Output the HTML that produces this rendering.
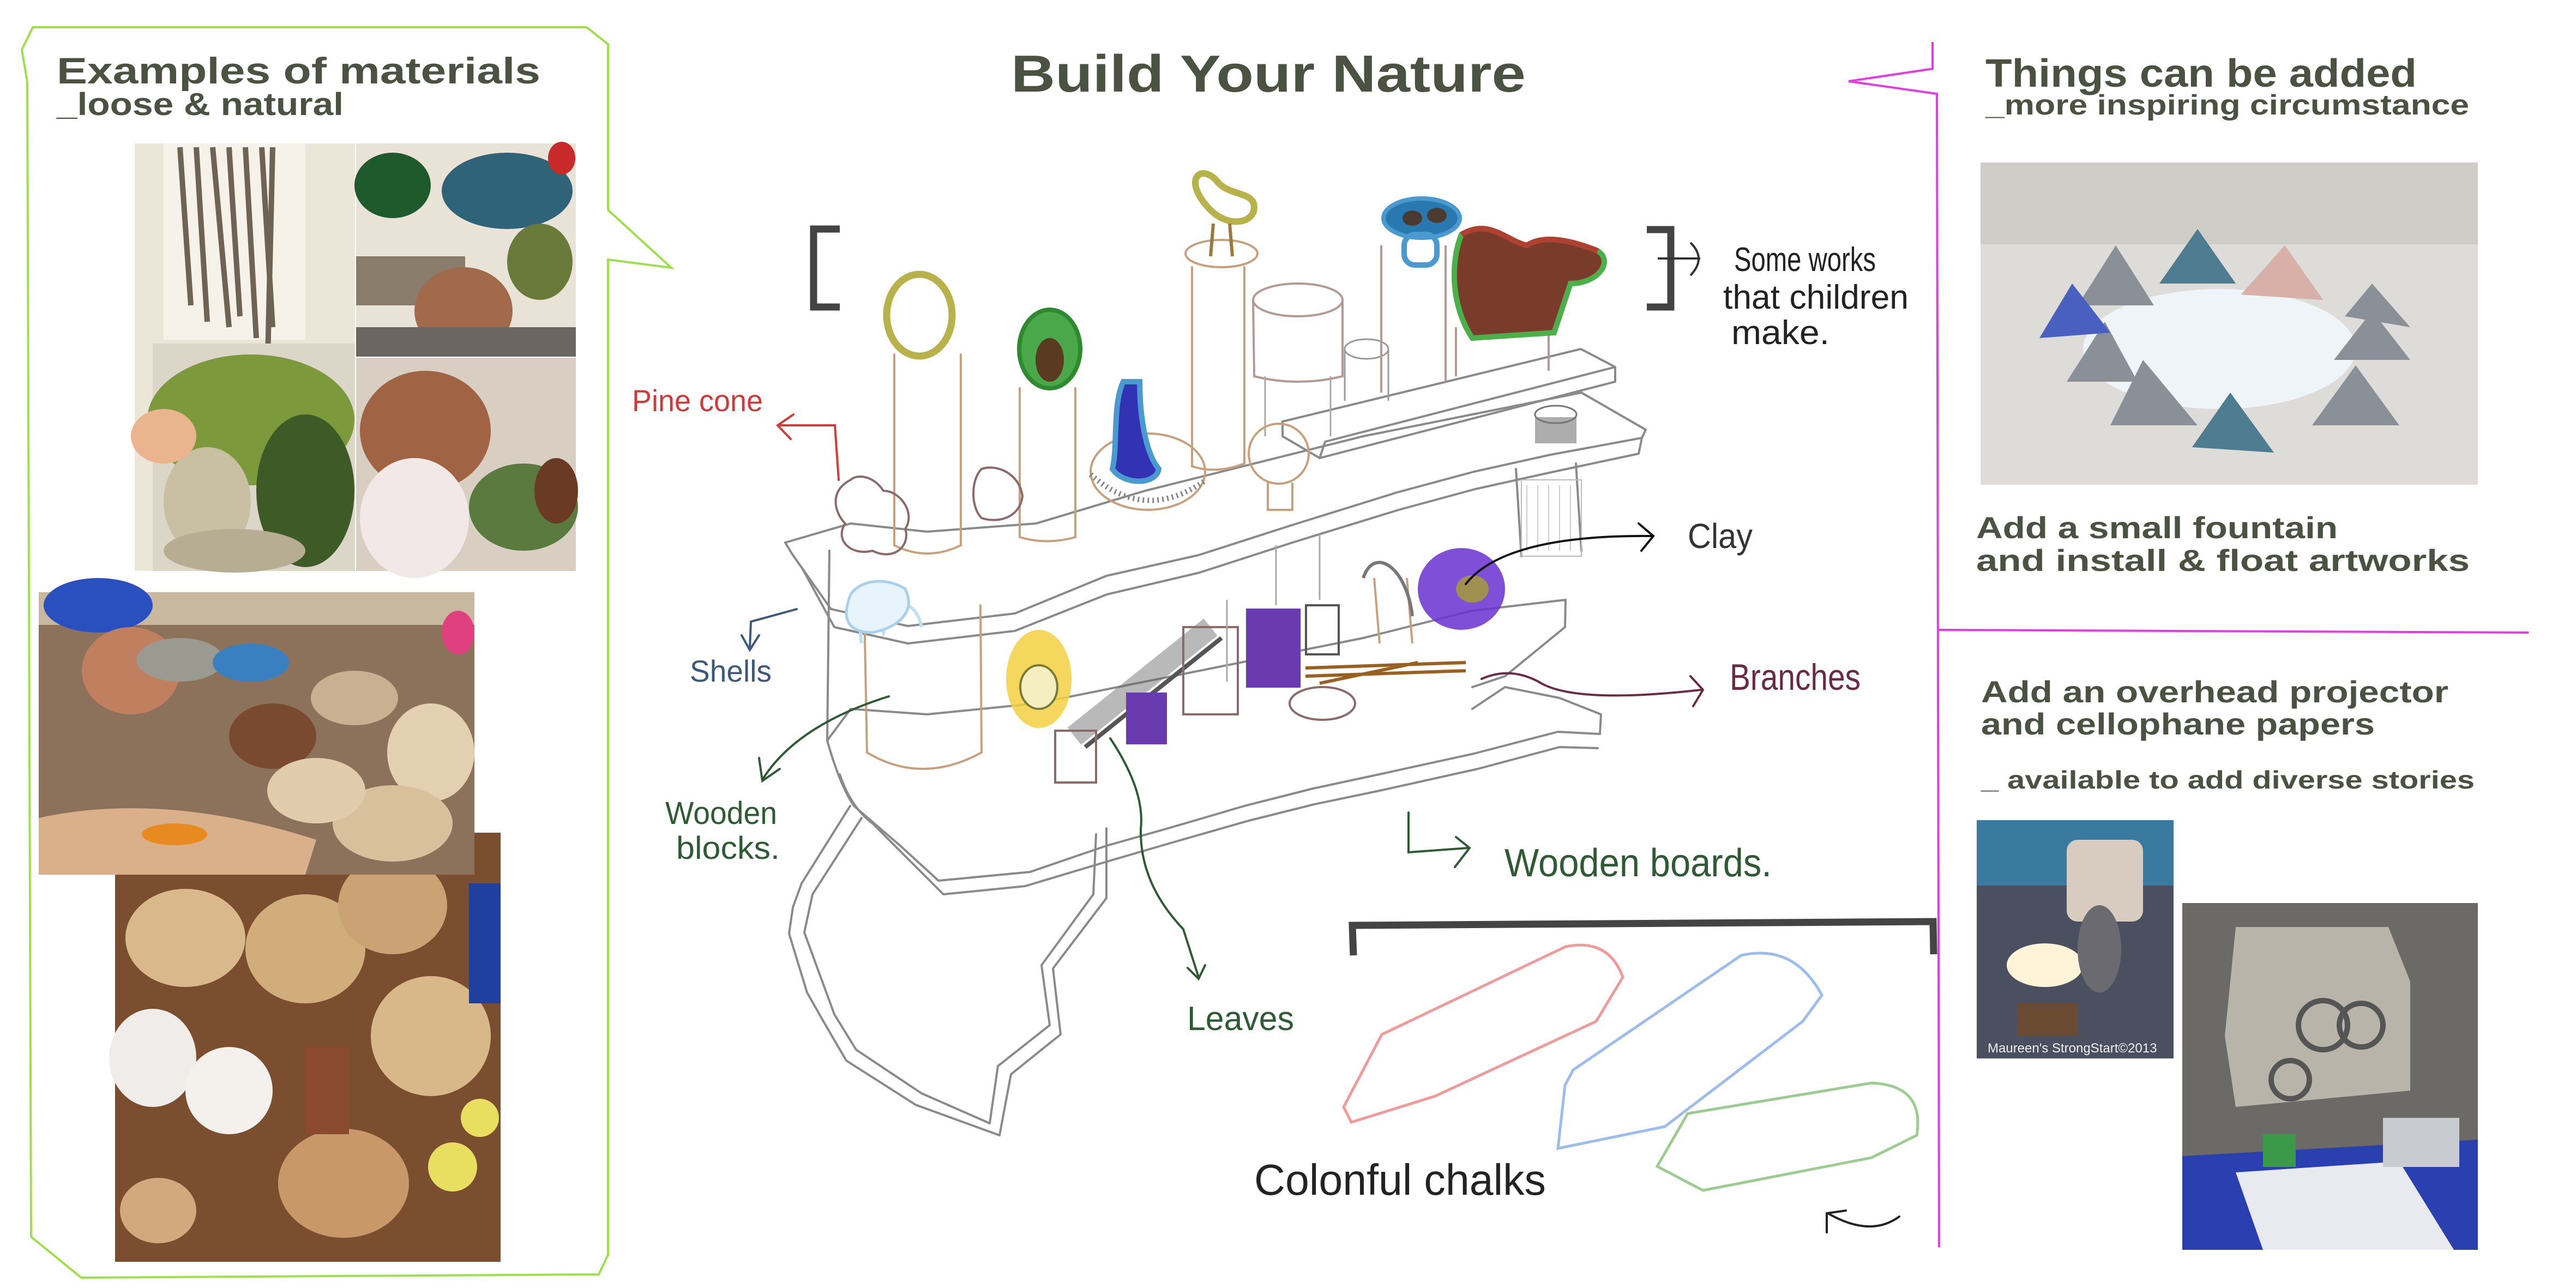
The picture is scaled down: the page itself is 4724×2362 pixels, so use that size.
<!DOCTYPE html>
<html><head><meta charset="utf-8"><style>
html,body{margin:0;padding:0;background:#fff;}
svg{display:block;}
.t{font-family:"Liberation Sans",sans-serif;font-weight:bold;fill:#4b5241;}
.h{font-family:"Liberation Sans",sans-serif;font-weight:normal;}
.g{fill:none;stroke:#8a8a8a;stroke-width:4;stroke-linecap:round;stroke-linejoin:round;}
.b{fill:none;stroke:#c7a07e;stroke-width:4;stroke-linecap:round;}
</style></head><body>
<svg width="4724" height="2362" viewBox="0 0 4724 2362" xmlns="http://www.w3.org/2000/svg">
<rect width="4724" height="2362" fill="#fff"/>

<!-- LEFT GREEN CALLOUT -->
<path d="M60,50 L1076,50 L1115,81 L1115,385 L1231,491 L1115,476 L1115,2301 L1098,2337 L149,2343 L57,2268 L50,150 L40,91 Z" fill="none" stroke="#9ee04a" stroke-width="4"/>
<text class="t" x="104" y="153" font-size="68" textLength="887" lengthAdjust="spacingAndGlyphs">Examples of materials</text>
<text class="t" x="104" y="211" font-size="58" textLength="526" lengthAdjust="spacingAndGlyphs">_loose &amp; natural</text>

<!-- photo1 sticks+moss -->
<rect x="247" y="263" width="404" height="784" fill="#ece6d8"/>
<rect x="300" y="263" width="260" height="360" fill="#f6f2ea"/>
<g stroke="#6e6355" stroke-width="10">
<line x1="330" y1="270" x2="350" y2="560"/><line x1="360" y1="270" x2="380" y2="590"/><line x1="390" y1="270" x2="420" y2="600"/><line x1="420" y1="270" x2="440" y2="580"/><line x1="450" y1="270" x2="470" y2="620"/><line x1="480" y1="270" x2="500" y2="600"/><line x1="500" y1="270" x2="490" y2="700"/></g>
<rect x="280" y="630" width="371" height="417" fill="#dcd6c8"/>
<ellipse cx="460" cy="770" rx="190" ry="120" fill="#7c9a3c"/>
<ellipse cx="560" cy="900" rx="90" ry="140" fill="#3e5a26"/>
<ellipse cx="380" cy="920" rx="80" ry="100" fill="#c9c0a4"/>
<ellipse cx="300" cy="800" rx="60" ry="50" fill="#e9b48e"/>
<ellipse cx="430" cy="1010" rx="130" ry="40" fill="#b6ad93"/>
<!-- photo2 -->
<rect x="653" y="263" width="403" height="391" fill="#e9e2d6"/>
<ellipse cx="720" cy="340" rx="70" ry="60" fill="#1f5a2c"/>
<ellipse cx="930" cy="350" rx="120" ry="70" fill="#2f6478"/>
<ellipse cx="1030" cy="290" rx="25" ry="30" fill="#c82a2a"/>
<rect x="653" y="470" width="200" height="90" fill="#8a7c6a"/>
<ellipse cx="850" cy="570" rx="90" ry="80" fill="#a26a4a"/>
<ellipse cx="990" cy="480" rx="60" ry="70" fill="#6a7a3a"/>
<rect x="653" y="600" width="403" height="54" fill="#6c6660"/>
<!-- photo3 -->
<rect x="653" y="656" width="403" height="391" fill="#d8cfc2"/>
<ellipse cx="780" cy="790" rx="120" ry="110" fill="#a06444"/>
<ellipse cx="760" cy="950" rx="100" ry="110" fill="#f2e8e8"/>
<ellipse cx="960" cy="930" rx="100" ry="80" fill="#5a7a40"/>
<ellipse cx="1020" cy="900" rx="40" ry="60" fill="#6a3a24"/>
<!-- photo5 (behind) -->
<rect x="211" y="1527" width="707" height="787" fill="#7a4e2e"/>
<ellipse cx="340" cy="1720" rx="110" ry="90" fill="#d9b98c"/>
<ellipse cx="560" cy="1740" rx="110" ry="100" fill="#d2ad7c"/>
<ellipse cx="720" cy="1660" rx="100" ry="90" fill="#caa274"/>
<ellipse cx="790" cy="1900" rx="110" ry="110" fill="#d8b888"/>
<ellipse cx="280" cy="1940" rx="80" ry="90" fill="#f0ecea"/>
<ellipse cx="420" cy="2000" rx="80" ry="80" fill="#f4f0ec"/>
<ellipse cx="630" cy="2170" rx="120" ry="100" fill="#c89868"/>
<ellipse cx="290" cy="2220" rx="70" ry="60" fill="#d2a87c"/>
<rect x="560" y="1920" width="80" height="160" fill="#8a4a30"/>
<circle cx="830" cy="2140" r="45" fill="#e8de60"/>
<circle cx="880" cy="2050" r="35" fill="#e8de60"/>
<rect x="860" y="1620" width="58" height="220" fill="#2040a0"/>
<!-- photo4 -->
<rect x="71" y="1086" width="799" height="518" fill="#8c725a"/>
<rect x="71" y="1086" width="799" height="60" fill="#c8b8a0"/>
<ellipse cx="180" cy="1110" rx="100" ry="50" fill="#2a50c0"/>
<ellipse cx="240" cy="1230" rx="90" ry="80" fill="#c08060"/>
<ellipse cx="330" cy="1210" rx="80" ry="40" fill="#9a9a90"/>
<ellipse cx="460" cy="1215" rx="70" ry="35" fill="#3a80c0"/>
<ellipse cx="500" cy="1350" rx="80" ry="60" fill="#7a4a30"/>
<ellipse cx="650" cy="1280" rx="80" ry="50" fill="#c8b090"/>
<ellipse cx="790" cy="1380" rx="80" ry="90" fill="#e2d0b0"/>
<ellipse cx="720" cy="1510" rx="110" ry="70" fill="#d8c09c"/>
<ellipse cx="580" cy="1450" rx="90" ry="60" fill="#e0ccaa"/>
<path d="M71,1500 Q300,1450 580,1540 L560,1604 L71,1604 Z" fill="#d9b08a"/>
<ellipse cx="320" cy="1530" rx="60" ry="20" fill="#e88a20"/>
<ellipse cx="840" cy="1160" rx="30" ry="40" fill="#e04080"/>

<!-- TITLE -->
<text class="t" x="1854" y="168" font-size="96" textLength="944" lengthAdjust="spacingAndGlyphs">Build Your Nature</text>

<!-- brackets -->
<path d="M1540,420 L1492,420 L1492,563 L1540,563" fill="none" stroke="#444" stroke-width="13"/>
<path d="M3020,421 L3064,421 L3064,563 L3020,563" fill="none" stroke="#444" stroke-width="13"/>
<path d="M3040,474 L3118,474 M3100,445 Q3130,474 3100,505" fill="none" stroke="#333" stroke-width="4"/>
<g class="h" fill="#222" font-size="62">
<text x="3180" y="497" textLength="260" lengthAdjust="spacingAndGlyphs">Some works</text>
<text x="3160" y="566" textLength="340" lengthAdjust="spacingAndGlyphs">that children</text>
<text x="3175" y="631" textLength="180" lengthAdjust="spacingAndGlyphs">make.</text>
</g>

<!-- SHELF SKETCH -->
<!-- base stand -->
<path class="g" d="M1559,1478 L1470,1620 L1454,1664 L1447,1712 L1480,1820 L1510,1873 L1552,1945 L1679,2026 L1833,2082 L1854,1970 L1945,1897 L1931,1776 L2029,1647 L2029,1519"/>
<path class="g" d="M1580,1500 L1490,1640 L1475,1710 L1530,1860 L1570,1925 L1690,2005 L1815,2060 L1830,1955 L1925,1880 L1910,1770 L2005,1640 L2010,1530" stroke="#b0b0b0" stroke-width="3"/>
<!-- lower shelf -->
<path class="g" d="M1517,1358 L1560,1300 L1700,1310 L1900,1290 L2100,1250 L2300,1210 L2500,1170 L2700,1120 L2871,1100 L2870,1150 L2760,1240 L2700,1260"/>
<path class="g" d="M1517,1358 Q1540,1440 1566,1478 L1651,1551 L1721,1615 L1889,1599 L2029,1551 L2142,1519 L2282,1478 L2408,1446 L2520,1422 L2703,1382 L2857,1342 L2934,1346 L2936,1310 L2860,1280 L2760,1260 L2700,1300"/>
<path class="g" d="M1540,1420 Q1560,1480 1600,1510 L1670,1580 L1730,1640 L1880,1625 L2030,1580 L2150,1545 L2290,1505 L2410,1475 L2530,1450 L2710,1410 L2860,1370 L2930,1372" stroke="#a0a0a0"/>
<path class="g" d="M1521,1010 L1517,1358" stroke="#9a9a9a"/>
<!-- upper shelf -->
<path class="g" d="M1440,995 L1560,960 L1700,975 L1900,960 L2100,900 L2300,850 L2500,800 L2700,760 L2900,720 L3018,788"/>
<path class="g" d="M1440,995 L1454,1018 L1524,1117 L1665,1148 L1861,1125 L2029,1056 L2198,1018 L2366,964 L2562,903 L2703,865 L2843,834 L3011,803 L3018,788"/>
<path class="g" d="M1470,1040 L1530,1150 L1665,1180 L1861,1157 L2030,1090 L2200,1050 L2370,995 L2565,935 L2705,897 L2845,866 L3005,832 L3011,803" stroke="#a0a0a0"/>
<!-- beam -->
<path class="g" d="M2352,773 L2899,640 L2962,673 L2962,700 L2420,840 L2352,800 Z"/>
<path class="g" d="M2420,840 L2430,810 L2962,673" stroke="#a0a0a0"/>
<!-- posts under upper shelf -->
<path class="g" d="M2780,860 L2790,1020 M2890,850 L2900,1010" stroke="#aaa"/>
<rect x="2790" y="880" width="110" height="140" fill="none" stroke="#bbb" stroke-width="2"/>
<g stroke="#ccc" stroke-width="2"><line x1="2800" y1="890" x2="2800" y2="1010"/><line x1="2820" y1="890" x2="2820" y2="1010"/><line x1="2840" y1="890" x2="2840" y2="1010"/><line x1="2860" y1="890" x2="2860" y2="1010"/><line x1="2880" y1="890" x2="2880" y2="1010"/></g>
<!-- upper cylinders -->
<path class="b" d="M1640,650 L1640,1000 Q1700,1030 1762,1000 L1762,650"/>
<ellipse cx="1686" cy="578" rx="60" ry="75" fill="none" stroke="#b8b24a" stroke-width="13"/>
<path class="b" d="M1870,712 L1870,985 Q1920,1000 1972,985 L1972,712" stroke="#b49a94"/>
<ellipse cx="1925" cy="640" rx="56" ry="72" fill="#4aa84a" stroke="#2e8a2e" stroke-width="8"/>
<ellipse cx="1925" cy="660" rx="26" ry="40" fill="#5a3a20"/>
<path class="b" d="M2186,490 L2186,855 Q2230,870 2282,850 L2282,490"/>
<ellipse cx="2240" cy="465" rx="66" ry="25" fill="none" stroke="#c7a07e" stroke-width="4"/>
<path d="M2215,380 C2170,330 2200,300 2230,330 C2250,360 2300,350 2300,380 C2300,410 2250,420 2215,380 Z" fill="none" stroke="#b8b24a" stroke-width="12"/>
<path d="M2225,410 L2220,470 M2255,410 L2260,470" stroke="#9a7a3a" stroke-width="6"/>
<ellipse cx="2380" cy="550" rx="82" ry="30" fill="none" stroke="#b49a94" stroke-width="4"/>
<path d="M2298,550 L2300,690 Q2380,710 2462,690 L2462,550" fill="none" stroke="#b49a94" stroke-width="4"/>
<path d="M2320,690 L2320,800 M2440,690 L2440,800" fill="none" stroke="#aaa" stroke-width="3"/>
<path d="M2466,640 L2466,735 M2546,640 L2546,735" fill="none" stroke="#999" stroke-width="3"/><ellipse cx="2506" cy="640" rx="40" ry="18" fill="none" stroke="#999" stroke-width="3"/>
<path d="M2533,450 L2533,720 M2651,450 L2651,700" fill="none" stroke="#b49a94" stroke-width="4"/>
<ellipse cx="2607" cy="400" rx="70" ry="36" fill="#2a78b0" stroke="#4a9ad0" stroke-width="8"/>
<ellipse cx="2590" cy="400" rx="18" ry="14" fill="#4a3a30"/><ellipse cx="2635" cy="395" rx="18" ry="14" fill="#4a3a30"/>
<rect x="2575" y="430" width="60" height="56" rx="20" fill="none" stroke="#4a9ad0" stroke-width="10"/>
<path d="M2670,600 L2670,690 M2840,600 L2840,680" fill="none" stroke="#b49a94" stroke-width="4"/>
<path d="M2680,430 C2730,400 2760,440 2800,450 C2830,430 2880,440 2930,460 C2960,480 2930,520 2880,520 L2850,610 L2700,620 C2660,560 2660,480 2680,430 Z" fill="#7a3c2a" stroke="#4cb04a" stroke-width="10"/>
<path d="M2680,430 C2730,400 2760,440 2800,450 C2830,430 2880,440 2930,460" fill="none" stroke="#b04030" stroke-width="10"/>
<!-- blue figure + slice -->
<ellipse cx="2105" cy="865" rx="105" ry="70" fill="none" stroke="#c7a07e" stroke-width="4"/>
<path d="M2000,870 Q2100,960 2212,880" fill="none" stroke="#888" stroke-width="10" stroke-dasharray="3 6"/>
<path d="M2060,700 C2040,740 2050,820 2040,860 C2060,890 2120,890 2125,860 C2100,830 2090,760 2090,700 Z" fill="#3232b4" stroke="#4a9ad0" stroke-width="10"/>
<!-- pine cones -->
<path d="M1560,880 C1520,900 1530,940 1550,960 C1530,990 1560,1020 1600,1010 C1640,1030 1670,1000 1660,970 C1680,940 1650,900 1620,900 C1600,870 1570,870 1560,880 Z" fill="none" stroke="#8a6a6a" stroke-width="4"/>
<path d="M1800,860 C1780,880 1780,930 1800,950 C1830,960 1870,950 1875,910 C1870,870 1830,850 1800,860 Z" fill="none" stroke="#8a6a6a" stroke-width="4"/>
<!-- mushroom -->
<circle cx="2345" cy="832" r="55" fill="none" stroke="#c7a07e" stroke-width="4"/>
<path d="M2325,885 L2325,935 L2370,935 L2370,885" fill="none" stroke="#c7a07e" stroke-width="4"/>
<ellipse cx="2853" cy="760" rx="38" ry="16" fill="none" stroke="#777" stroke-width="3"/>
<rect x="2815" y="765" width="76" height="48" fill="#777" opacity=".6"/>

<!-- lower shelf items -->
<path class="b" d="M1585,1120 L1590,1380 Q1690,1440 1800,1380 L1798,1110"/>
<ellipse cx="1905" cy="1245" rx="60" ry="90" fill="#f2d040" opacity=".85"/>
<ellipse cx="1905" cy="1260" rx="34" ry="40" fill="#f4eec0" stroke="#7a7a3a" stroke-width="4"/>
<path d="M1970,1350 L2220,1150" stroke="#666" stroke-width="40" opacity=".45"/>
<path d="M1990,1370 L2240,1170" stroke="#555" stroke-width="8"/>
<rect x="1935" y="1340" width="75" height="95" fill="none" stroke="#8a6a6a" stroke-width="4"/>
<rect x="2065" y="1270" width="75" height="95" fill="#6a3ab0"/>
<rect x="2170" y="1150" width="100" height="160" fill="none" stroke="#8a6a6a" stroke-width="4"/>
<rect x="2285" y="1116" width="100" height="145" fill="#6a3ab0"/>
<rect x="2395" y="1110" width="60" height="90" fill="none" stroke="#555" stroke-width="4"/>
<ellipse cx="2425" cy="1290" rx="60" ry="30" fill="none" stroke="#8a6a6a" stroke-width="4"/>
<path d="M2394,1225 L2688,1215 M2394,1240 L2688,1230 M2420,1253 L2600,1215" stroke="#9a6020" stroke-width="6"/>
<path d="M2520,1060 L2530,1180 M2580,1060 L2590,1180" stroke="#c7a07e" stroke-width="4"/>
<ellipse cx="2680" cy="1080" rx="80" ry="75" fill="#6a30d0" opacity=".85"/>
<ellipse cx="2700" cy="1080" rx="30" ry="25" fill="#a09050"/>
<path d="M2500,1060 C2520,1000 2580,1040 2590,1130" fill="none" stroke="#777" stroke-width="6"/>
<path d="M2250,1100 L2250,1250 M2340,1000 L2340,1110 M2420,980 L2420,1100" stroke="#aaa" stroke-width="3"/>
<path d="M1580,1180 C1570,1110 1600,1110 1620,1160 C1640,1090 1680,1100 1690,1150" fill="none" stroke="#c0e0f0" stroke-width="6"/>
<path d="M1560,1090 C1540,1140 1560,1160 1600,1160 C1650,1150 1680,1120 1660,1080 C1630,1060 1580,1060 1560,1090 Z" fill="#e8f4fc" stroke="#a8d0ec" stroke-width="5"/>

<!-- LABELS & ARROWS -->
<g class="h">
<text x="1159" y="754" font-size="56" fill="#d23a3a" textLength="240" lengthAdjust="spacingAndGlyphs">Pine cone</text>
<text x="1265" y="1250" font-size="56" fill="#3c5a78" textLength="150" lengthAdjust="spacingAndGlyphs">Shells</text>
<text x="1220" y="1511" font-size="58" fill="#2e5a34" textLength="205" lengthAdjust="spacingAndGlyphs">Wooden</text>
<text x="1240" y="1575" font-size="58" fill="#2e5a34" textLength="190" lengthAdjust="spacingAndGlyphs">blocks.</text>
<text x="2177" y="1889" font-size="62" fill="#2e5a34" textLength="196" lengthAdjust="spacingAndGlyphs">Leaves</text>
<text x="2759" y="1607" font-size="72" fill="#2e5a34" textLength="490" lengthAdjust="spacingAndGlyphs">Wooden boards.</text>
<text x="3172" y="1265" font-size="68" fill="#6a2a44" textLength="240" lengthAdjust="spacingAndGlyphs">Branches</text>
<text x="3095" y="1005" font-size="64" fill="#333" textLength="119" lengthAdjust="spacingAndGlyphs">Clay</text>
<text x="2300" y="2191" font-size="80" fill="#222" textLength="535" lengthAdjust="spacingAndGlyphs">Colonful chalks</text>
</g>
<g fill="none" stroke-width="4" stroke-linecap="round">
<path d="M1538,880 L1531,780 L1426,780 M1455,760 L1426,780 L1450,805" stroke="#d23a3a"/>
<path d="M1461,1117 L1377,1140 L1375,1190 M1360,1165 L1375,1192 L1392,1165" stroke="#3c5a78"/>
<path d="M1630,1277 Q1460,1330 1398,1430 M1392,1390 L1398,1432 L1430,1410" stroke="#2e5a34"/>
<path d="M2036,1354 Q2100,1450 2092,1520 Q2090,1620 2170,1704 L2198,1792 M2178,1775 L2198,1795 L2210,1770" stroke="#2e5a34"/>
<path d="M2583,1490 L2583,1563 L2692,1555 M2670,1535 L2695,1555 L2668,1590" stroke="#2e5a34"/>
<path d="M2717,1245 Q2773,1220 2830,1255 Q2900,1290 3120,1265 M3100,1240 L3123,1265 L3105,1295" stroke="#6a2a44"/>
<path d="M2688,1071 Q2760,980 3030,983 M3005,960 L3032,983 L3010,1010" stroke="#111"/>
<path d="M3483,2231 Q3430,2270 3352,2225 M3350,2260 L3350,2225 L3385,2220" stroke="#222"/>
</g>
<!-- chalk bracket -->
<path d="M2482,1752 L2480,1697 L3545,1690 L3546,1750" fill="none" stroke="#444" stroke-width="13"/>
<!-- chalks -->
<path d="M2478,2058 L2464,2030 L2534,1897 L2871,1736 Q2950,1720 2976,1792 L2927,1873 L2632,2010 Z" fill="none" stroke="#f29a9a" stroke-width="5"/>
<path d="M2857,2106 L2870,1990 L2885,1962 L3193,1752 Q3290,1730 3341,1825 L3306,1873 L3053,2066 Z" fill="none" stroke="#9cbcf0" stroke-width="5"/>
<path d="M3039,2139 L3095,2042 L3432,1986 Q3530,1990 3515,2082 L3432,2123 L3123,2183 Z" fill="none" stroke="#9ccc90" stroke-width="5"/>

<!-- RIGHT MAGENTA -->
<path d="M3544,77 L3544,126 L3390,149 L3552,172 L3556,2287" fill="none" stroke="#e23ce2" stroke-width="4"/>
<path d="M3552,1155 L4637,1160" fill="none" stroke="#e23ce2" stroke-width="4"/>
<text class="t" x="3641" y="159" font-size="72" textLength="791" lengthAdjust="spacingAndGlyphs">Things can be added</text>
<text class="t" x="3641" y="210" font-size="52" textLength="887" lengthAdjust="spacingAndGlyphs">_more inspiring circumstance</text>
<!-- fountain photo -->
<rect x="3632" y="298" width="912" height="591" fill="#dedcd8"/>
<rect x="3632" y="298" width="912" height="150" fill="#cfcdc8"/>
<ellipse cx="4070" cy="640" rx="250" ry="110" fill="#eef4f8"/>
<path d="M3740,620 L3800,520 L3870,610 Z M3810,560 L3880,450 L3950,560 Z M3960,520 L4030,420 L4100,520 Z M4110,540 L4190,450 L4260,550 Z M4300,580 L4350,520 L4420,600 Z M3790,700 L3860,590 L3920,700 Z M3870,780 L3930,660 L4030,780 Z M4020,820 L4090,720 L4170,830 Z M4240,780 L4320,670 L4400,780 Z M4280,660 L4350,570 L4420,660 Z" fill="#8a9098"/>
<path d="M3960,520 L4030,420 L4100,520 Z M4020,820 L4090,720 L4170,830 Z" fill="#4e7c90"/>
<path d="M4110,540 L4190,450 L4260,550 Z" fill="#d8b0a8"/>
<path d="M3740,620 L3800,520 L3870,610 Z" fill="#4a60c0"/>
<text class="t" x="3624" y="987" font-size="56" textLength="663" lengthAdjust="spacingAndGlyphs">Add a small fountain</text>
<text class="t" x="3624" y="1047" font-size="56" textLength="905" lengthAdjust="spacingAndGlyphs">and install &amp; float artworks</text>
<text class="t" x="3633" y="1288" font-size="56" textLength="857" lengthAdjust="spacingAndGlyphs">Add an overhead projector</text>
<text class="t" x="3633" y="1347" font-size="56" textLength="722" lengthAdjust="spacingAndGlyphs">and cellophane papers</text>
<text class="t" x="3633" y="1446" font-size="46" textLength="905" lengthAdjust="spacingAndGlyphs">_ available to add diverse stories</text>
<!-- photo A -->
<rect x="3625" y="1504" width="361" height="437" fill="#4a5060"/>
<rect x="3625" y="1504" width="361" height="120" fill="#3a7aa0"/>
<rect x="3790" y="1540" width="140" height="150" rx="20" fill="#d8ccc0"/>
<ellipse cx="3750" cy="1770" rx="70" ry="40" fill="#fff4d8"/>
<ellipse cx="3850" cy="1740" rx="40" ry="80" fill="#6a6a70"/>
<rect x="3700" y="1840" width="110" height="60" fill="#6a4a30"/>
<text x="3645" y="1930" font-family="Liberation Sans,sans-serif" font-size="24" fill="#eee">Maureen's StrongStart©2013</text>
<!-- photo B -->
<rect x="4002" y="1656" width="542" height="636" fill="#6c6a66"/>
<path d="M4100,1700 L4380,1700 L4420,1800 L4420,2000 L4100,2030 L4080,1900 Z" fill="#b8b4aa"/>
<circle cx="4260" cy="1880" r="45" fill="none" stroke="#555" stroke-width="10"/>
<circle cx="4330" cy="1880" r="40" fill="none" stroke="#555" stroke-width="10"/>
<circle cx="4200" cy="1980" r="35" fill="none" stroke="#555" stroke-width="10"/>
<path d="M4002,2120 L4544,2090 L4544,2292 L4002,2292 Z" fill="#2a40b0"/>
<path d="M4100,2150 L4400,2130 L4500,2292 L4150,2292 Z" fill="#e8eaf0"/>
<rect x="4370" y="2050" width="140" height="90" fill="#c8ccd0"/>
<rect x="4150" y="2080" width="60" height="60" fill="#3a9a4a"/>
</svg>
</body></html>
